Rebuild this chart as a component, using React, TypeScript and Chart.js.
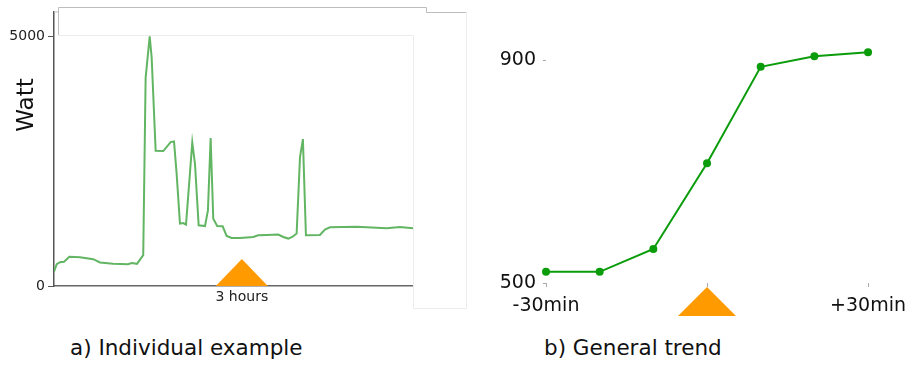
import React, { useEffect, useRef } from "react";
import { Chart, registerables } from "chart.js";

Chart.register(...registerables);

// ---- Panel a) individual example (minutes from start, watts) ----
const leftMinutes = [0, 2.6, 5.7, 9.6, 14.7, 24.9, 37.6, 44.1, 56.5, 70.9, 74.4, 79.5, 85.5, 87.8, 91.7, 93.6, 97.4, 104.7, 111.8, 115, 117.5, 120.7, 123.9, 126.5, 132.5, 135.1, 138.6, 144.7, 147.5, 150.1, 152.6, 156.4, 161.6, 165.4, 170.2, 178.2, 190.9, 195.7, 203.8, 214.9, 219.7, 224.5, 228.3, 232.5, 235.7, 238.5, 241.4, 254.8, 259.6, 264.4, 290, 318.7, 331.5, 344];
const leftWatts = [285, 438, 478, 484, 584, 578, 538, 472, 444, 438, 458, 444, 618, 4169, 5000, 4568, 2709, 2703, 2882, 2894, 2251, 1249, 1261, 1229, 2874, 2444, 1215, 1201, 1514, 2962, 1349, 1201, 1195, 1002, 962, 962, 982, 1016, 1022, 1030, 982, 950, 982, 1050, 2576, 2942, 1016, 1022, 1129, 1175, 1189, 1155, 1181, 1155];
const leftYTicks = [0, 5000];
const leftYTickLabels = ["0", "5000"];
const leftXTicks = [180];
const leftXTickLabels = ["3 hours"];
const leftEventMinute = 180;
const leftYLabel = "Watt";

// ---- Panel b) general trend ----
const rightMinutes = [-30, -20, -10, 0, 10, 20, 30];
const rightWatts = [520, 520, 561, 715, 888, 907, 914];
const rightYTicks = [500, 900];
const rightYTickLabels = ["500", "900"];
const rightXTicks = [-30, 0, 30];
const rightXTickLabels = ["-30min", "", "+30min"];
const rightEventMinute = 0;

const captionA = "a) Individual example";
const captionB = "b) General trend";

const FONT = "'DejaVu Sans', sans-serif";
const ORANGE = "#ff9b00";

function trianglePlugin(eventX: number, baseOffset: number, height: number, halfWidth: number) {
  return {
    id: "eventTriangle",
    afterDatasetsDraw(chart: any) {
      const ctx = chart.ctx;
      const px = chart.scales.x.getPixelForValue(eventX);
      const base = chart.chartArea.bottom + baseOffset;
      ctx.save();
      ctx.fillStyle = ORANGE;
      ctx.beginPath();
      ctx.moveTo(px - halfWidth, base);
      ctx.lineTo(px, base - height);
      ctx.lineTo(px + halfWidth, base);
      ctx.closePath();
      ctx.fill();
      ctx.restore();
    },
  };
}

const leftDecor = {
  id: "leftDecor",
  afterDraw(chart: any) {
    const ctx = chart.ctx;
    const a = chart.chartArea;
    ctx.save();
    ctx.fillStyle = "#111";
    ctx.font = `23px ${FONT}`;
    ctx.translate(a.left - 21, 105);
    ctx.rotate(-Math.PI / 2);
    ctx.textAlign = "center";
    ctx.textBaseline = "alphabetic";
    ctx.fillText(leftYLabel, 0, 0);
    ctx.restore();
    ctx.save();
    ctx.lineWidth = 1;
    ctx.strokeStyle = "#bdbdbd";
    ctx.beginPath();
    ctx.moveTo(a.left, a.top + 0.5);
    ctx.lineTo(a.left + 4, a.top + 0.5);
    ctx.moveTo(a.left + 4.5, 35);
    ctx.lineTo(a.left + 4.5, 7.5);
    ctx.lineTo(426.5, 7.5);
    ctx.lineTo(426.5, 12.5);
    ctx.lineTo(466.5, 12.5);
    ctx.stroke();
    ctx.strokeStyle = "#ececec";
    ctx.beginPath();
    ctx.moveTo(466.5, 12.5);
    ctx.lineTo(466.5, 308.5);
    ctx.lineTo(a.right + 0.5, 308.5);
    ctx.lineTo(a.right + 0.5, 35.5);
    ctx.lineTo(a.left + 4.5, 35.5);
    ctx.stroke();
    ctx.restore();
  },
};

function labelFor(ticks: number[], labels: string[]) {
  return (v: any) => {
    const i = ticks.indexOf(Number(v));
    return i >= 0 ? labels[i] : "";
  };
}

function LeftChart() {
  const ref = useRef<HTMLCanvasElement>(null);
  useEffect(() => {
    const chart = new Chart(ref.current!, {
      type: "line",
      data: {
        datasets: [
          {
            data: leftMinutes.map((m, i) => ({ x: m, y: leftWatts[i] })),
            borderColor: "#62b562",
            borderWidth: 2,
            pointRadius: 0,
            tension: 0,
            fill: false,
          },
        ],
      },
      options: {
        animation: false,
        responsive: false,
        devicePixelRatio: 1,
        layout: { padding: { top: 10, right: 57, left: 0, bottom: 0 } },
        plugins: { legend: { display: false }, tooltip: { enabled: false } },
        scales: {
          x: {
            type: "linear",
            min: 0,
            max: 344,
            afterBuildTicks: (s: any) => {
              s.ticks = leftXTicks.map((v) => ({ value: v }));
            },
            afterFit: (s: any) => {
              s.height = 34;
            },
            ticks: {
              autoSkip: false,
              maxRotation: 0,
              padding: 3,
              color: "#222",
              font: { family: FONT, size: 14 },
              callback: labelFor(leftXTicks, leftXTickLabels),
            },
            grid: { drawOnChartArea: false, drawTicks: false },
            border: { display: true, color: "#666", width: 1.5 },
          },
          y: {
            type: "linear",
            min: 0,
            max: 5500,
            afterBuildTicks: (s: any) => {
              s.ticks = leftYTicks.map((v) => ({ value: v }));
            },
            afterFit: (s: any) => {
              s.width = 54;
            },
            ticks: {
              padding: 3,
              color: "#222",
              font: { family: FONT, size: 14 },
              callback: labelFor(leftYTicks, leftYTickLabels),
            },
            grid: { drawOnChartArea: false, tickLength: 6, color: "#555" },
            border: { display: true, color: "#555", width: 1.5 },
          },
        },
      },
      plugins: [trianglePlugin(leftEventMinute, 0, 27, 26), leftDecor],
    } as any);
    return () => chart.destroy();
  }, []);
  return (
    <canvas
      ref={ref}
      width={470}
      height={320}
      style={{ position: "absolute", left: 0, top: 0, width: 470, height: 320 }}
    />
  );
}

function RightChart() {
  const ref = useRef<HTMLCanvasElement>(null);
  useEffect(() => {
    const chart = new Chart(ref.current!, {
      type: "line",
      data: {
        datasets: [
          {
            data: rightMinutes.map((m, i) => ({ x: m, y: rightWatts[i] })),
            borderColor: "#0a9c0a",
            backgroundColor: "#0a9c0a",
            borderWidth: 2,
            pointRadius: 4,
            pointBorderWidth: 0,
            tension: 0,
            fill: false,
            clip: false,
          },
        ],
      },
      options: {
        animation: false,
        responsive: false,
        devicePixelRatio: 1,
        layout: { padding: { top: 49, right: 43, left: 0, bottom: 0 } },
        plugins: { legend: { display: false }, tooltip: { enabled: false } },
        scales: {
          x: {
            type: "linear",
            min: -30,
            max: 30,
            afterBuildTicks: (s: any) => {
              s.ticks = rightXTicks.map((v) => ({ value: v }));
            },
            afterFit: (s: any) => {
              s.height = 47;
            },
            ticks: {
              autoSkip: false,
              maxRotation: 0,
              padding: 8,
              color: "#111",
              font: { family: FONT, size: 19 },
              callback: labelFor(rightXTicks, rightXTickLabels),
            },
            grid: { drawOnChartArea: false, tickLength: 4, color: "#aaa" },
            border: { display: false },
          },
          y: {
            type: "linear",
            min: 500,
            max: 920,
            afterBuildTicks: (s: any) => {
              s.ticks = rightYTicks.map((v) => ({ value: v }));
            },
            afterFit: (s: any) => {
              s.width = 66;
            },
            ticks: {
              padding: 7,
              color: "#111",
              font: { family: FONT, size: 19 },
              callback: labelFor(rightYTicks, rightYTickLabels),
            },
            grid: { drawOnChartArea: false, tickLength: 3, color: "#aaa" },
            border: { display: false },
          },
        },
      },
      plugins: [trianglePlugin(rightEventMinute, 33, 29, 29)],
    } as any);
    return () => chart.destroy();
  }, []);
  return (
    <canvas
      ref={ref}
      width={434}
      height={330}
      style={{ position: "absolute", left: 480, top: 0, width: 434, height: 330 }}
    />
  );
}

export default function App() {
  const cap: React.CSSProperties = {
    position: "absolute",
    top: 334,
    fontFamily: FONT,
    fontSize: 21.5,
    color: "#111",
    whiteSpace: "nowrap",
    lineHeight: "28px",
  };
  return (
    <div
      style={{
        position: "absolute",
        left: 0,
        top: 0,
        width: 914,
        height: 366,
        background: "#fff",
        overflow: "hidden",
      }}
    >
      <LeftChart />
      <RightChart />
      <div style={{ ...cap, left: 70 }}>{captionA}</div>
      <div style={{ ...cap, left: 544 }}>{captionB}</div>
    </div>
  );
}
